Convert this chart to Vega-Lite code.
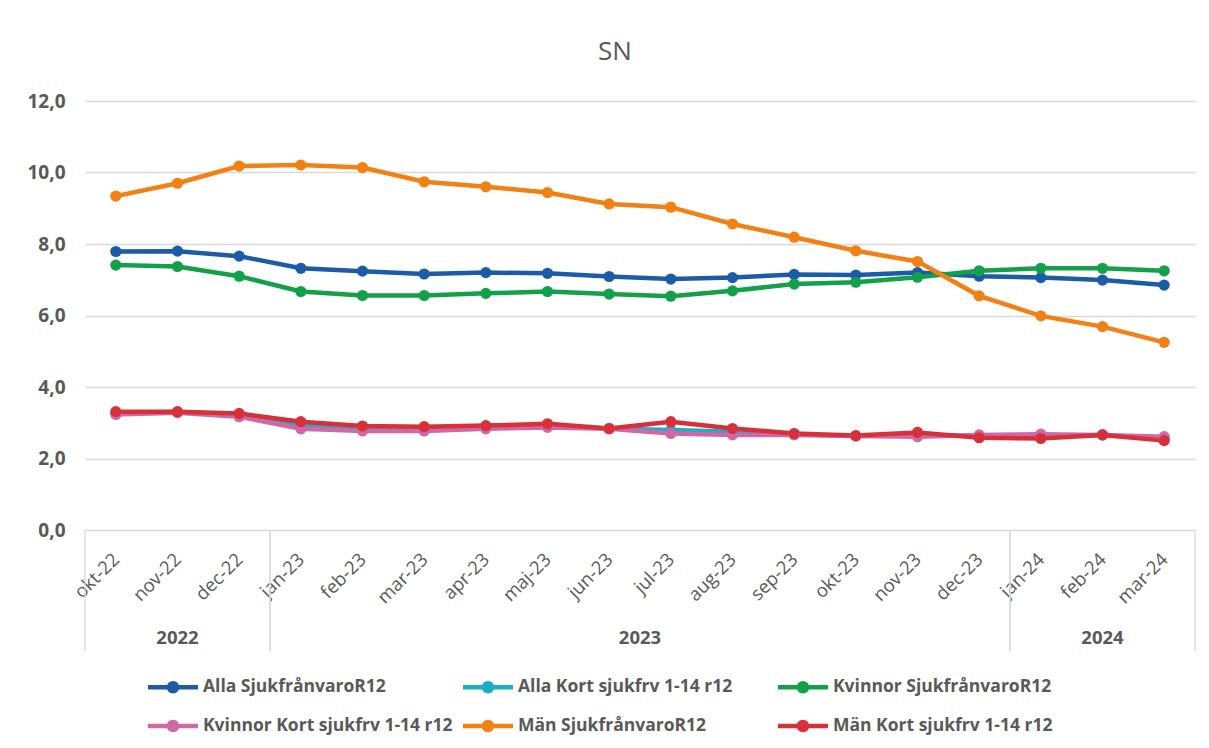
{
  "$schema": "https://vega.github.io/schema/vega-lite/v6.json",
  "autosize": {"type": "none"},
  "width": 1110,
  "height": 429,
  "padding": {"left": 85, "top": 101, "right": 14, "bottom": 218},
  "background": "white",
  "title": {"text": "SN", "fontSize": 26, "fontWeight": "normal", "color": "#595959", "font": "Open Sans", "baseline": "alphabetic", "offset": 6, "dx": -25},
  "config": {
    "font": "Open Sans",
    "view": {"stroke": null}
  },
  "resolve": {"scale": {"x": "independent"}},
  "layer": [
    {
      "data": {"values": [
        {"m":"okt-22","s":"Alla SjukfrånvaroR12","v":7.79},{"m":"nov-22","s":"Alla SjukfrånvaroR12","v":7.80},{"m":"dec-22","s":"Alla SjukfrånvaroR12","v":7.66},{"m":"jan-23","s":"Alla SjukfrånvaroR12","v":7.32},{"m":"feb-23","s":"Alla SjukfrånvaroR12","v":7.24},{"m":"mar-23","s":"Alla SjukfrånvaroR12","v":7.16},{"m":"apr-23","s":"Alla SjukfrånvaroR12","v":7.20},{"m":"maj-23","s":"Alla SjukfrånvaroR12","v":7.18},{"m":"jun-23","s":"Alla SjukfrånvaroR12","v":7.09},{"m":"jul-23","s":"Alla SjukfrånvaroR12","v":7.02},{"m":"aug-23","s":"Alla SjukfrånvaroR12","v":7.06},{"m":"sep-23","s":"Alla SjukfrånvaroR12","v":7.15},{"m":"okt-23","s":"Alla SjukfrånvaroR12","v":7.13},{"m":"nov-23","s":"Alla SjukfrånvaroR12","v":7.20},{"m":"dec-23","s":"Alla SjukfrånvaroR12","v":7.10},{"m":"jan-24","s":"Alla SjukfrånvaroR12","v":7.06},{"m":"feb-24","s":"Alla SjukfrånvaroR12","v":6.99},{"m":"mar-24","s":"Alla SjukfrånvaroR12","v":6.85},
        {"m":"okt-22","s":"Alla Kort sjukfrv 1-14 r12","v":3.27},{"m":"nov-22","s":"Alla Kort sjukfrv 1-14 r12","v":3.30},{"m":"dec-22","s":"Alla Kort sjukfrv 1-14 r12","v":3.21},{"m":"jan-23","s":"Alla Kort sjukfrv 1-14 r12","v":2.93},{"m":"feb-23","s":"Alla Kort sjukfrv 1-14 r12","v":2.85},{"m":"mar-23","s":"Alla Kort sjukfrv 1-14 r12","v":2.84},{"m":"apr-23","s":"Alla Kort sjukfrv 1-14 r12","v":2.88},{"m":"maj-23","s":"Alla Kort sjukfrv 1-14 r12","v":2.92},{"m":"jun-23","s":"Alla Kort sjukfrv 1-14 r12","v":2.84},{"m":"jul-23","s":"Alla Kort sjukfrv 1-14 r12","v":2.80},{"m":"aug-23","s":"Alla Kort sjukfrv 1-14 r12","v":2.75},{"m":"sep-23","s":"Alla Kort sjukfrv 1-14 r12","v":2.68},{"m":"okt-23","s":"Alla Kort sjukfrv 1-14 r12","v":2.63},{"m":"nov-23","s":"Alla Kort sjukfrv 1-14 r12","v":2.67},{"m":"dec-23","s":"Alla Kort sjukfrv 1-14 r12","v":2.62},{"m":"jan-24","s":"Alla Kort sjukfrv 1-14 r12","v":2.62},{"m":"feb-24","s":"Alla Kort sjukfrv 1-14 r12","v":2.66},{"m":"mar-24","s":"Alla Kort sjukfrv 1-14 r12","v":2.56},
        {"m":"okt-22","s":"Kvinnor SjukfrånvaroR12","v":7.41},{"m":"nov-22","s":"Kvinnor SjukfrånvaroR12","v":7.37},{"m":"dec-22","s":"Kvinnor SjukfrånvaroR12","v":7.10},{"m":"jan-23","s":"Kvinnor SjukfrånvaroR12","v":6.67},{"m":"feb-23","s":"Kvinnor SjukfrånvaroR12","v":6.56},{"m":"mar-23","s":"Kvinnor SjukfrånvaroR12","v":6.56},{"m":"apr-23","s":"Kvinnor SjukfrånvaroR12","v":6.62},{"m":"maj-23","s":"Kvinnor SjukfrånvaroR12","v":6.67},{"m":"jun-23","s":"Kvinnor SjukfrånvaroR12","v":6.60},{"m":"jul-23","s":"Kvinnor SjukfrånvaroR12","v":6.54},{"m":"aug-23","s":"Kvinnor SjukfrånvaroR12","v":6.69},{"m":"sep-23","s":"Kvinnor SjukfrånvaroR12","v":6.88},{"m":"okt-23","s":"Kvinnor SjukfrånvaroR12","v":6.93},{"m":"nov-23","s":"Kvinnor SjukfrånvaroR12","v":7.07},{"m":"dec-23","s":"Kvinnor SjukfrånvaroR12","v":7.25},{"m":"jan-24","s":"Kvinnor SjukfrånvaroR12","v":7.32},{"m":"feb-24","s":"Kvinnor SjukfrånvaroR12","v":7.32},{"m":"mar-24","s":"Kvinnor SjukfrånvaroR12","v":7.25},
        {"m":"okt-22","s":"Kvinnor Kort sjukfrv 1-14 r12","v":3.23},{"m":"nov-22","s":"Kvinnor Kort sjukfrv 1-14 r12","v":3.28},{"m":"dec-22","s":"Kvinnor Kort sjukfrv 1-14 r12","v":3.17},{"m":"jan-23","s":"Kvinnor Kort sjukfrv 1-14 r12","v":2.83},{"m":"feb-23","s":"Kvinnor Kort sjukfrv 1-14 r12","v":2.77},{"m":"mar-23","s":"Kvinnor Kort sjukfrv 1-14 r12","v":2.77},{"m":"apr-23","s":"Kvinnor Kort sjukfrv 1-14 r12","v":2.83},{"m":"maj-23","s":"Kvinnor Kort sjukfrv 1-14 r12","v":2.87},{"m":"jun-23","s":"Kvinnor Kort sjukfrv 1-14 r12","v":2.83},{"m":"jul-23","s":"Kvinnor Kort sjukfrv 1-14 r12","v":2.70},{"m":"aug-23","s":"Kvinnor Kort sjukfrv 1-14 r12","v":2.66},{"m":"sep-23","s":"Kvinnor Kort sjukfrv 1-14 r12","v":2.66},{"m":"okt-23","s":"Kvinnor Kort sjukfrv 1-14 r12","v":2.63},{"m":"nov-23","s":"Kvinnor Kort sjukfrv 1-14 r12","v":2.61},{"m":"dec-23","s":"Kvinnor Kort sjukfrv 1-14 r12","v":2.66},{"m":"jan-24","s":"Kvinnor Kort sjukfrv 1-14 r12","v":2.68},{"m":"feb-24","s":"Kvinnor Kort sjukfrv 1-14 r12","v":2.66},{"m":"mar-24","s":"Kvinnor Kort sjukfrv 1-14 r12","v":2.61},
        {"m":"okt-22","s":"Män SjukfrånvaroR12","v":9.34},{"m":"nov-22","s":"Män SjukfrånvaroR12","v":9.70},{"m":"dec-22","s":"Män SjukfrånvaroR12","v":10.18},{"m":"jan-23","s":"Män SjukfrånvaroR12","v":10.21},{"m":"feb-23","s":"Män SjukfrånvaroR12","v":10.14},{"m":"mar-23","s":"Män SjukfrånvaroR12","v":9.74},{"m":"apr-23","s":"Män SjukfrånvaroR12","v":9.60},{"m":"maj-23","s":"Män SjukfrånvaroR12","v":9.44},{"m":"jun-23","s":"Män SjukfrånvaroR12","v":9.12},{"m":"jul-23","s":"Män SjukfrånvaroR12","v":9.03},{"m":"aug-23","s":"Män SjukfrånvaroR12","v":8.56},{"m":"sep-23","s":"Män SjukfrånvaroR12","v":8.19},{"m":"okt-23","s":"Män SjukfrånvaroR12","v":7.81},{"m":"nov-23","s":"Män SjukfrånvaroR12","v":7.51},{"m":"dec-23","s":"Män SjukfrånvaroR12","v":6.55},{"m":"jan-24","s":"Män SjukfrånvaroR12","v":5.99},{"m":"feb-24","s":"Män SjukfrånvaroR12","v":5.69},{"m":"mar-24","s":"Män SjukfrånvaroR12","v":5.25},
        {"m":"okt-22","s":"Män Kort sjukfrv 1-14 r12","v":3.31},{"m":"nov-22","s":"Män Kort sjukfrv 1-14 r12","v":3.31},{"m":"dec-22","s":"Män Kort sjukfrv 1-14 r12","v":3.26},{"m":"jan-23","s":"Män Kort sjukfrv 1-14 r12","v":3.03},{"m":"feb-23","s":"Män Kort sjukfrv 1-14 r12","v":2.91},{"m":"mar-23","s":"Män Kort sjukfrv 1-14 r12","v":2.89},{"m":"apr-23","s":"Män Kort sjukfrv 1-14 r12","v":2.92},{"m":"maj-23","s":"Män Kort sjukfrv 1-14 r12","v":2.97},{"m":"jun-23","s":"Män Kort sjukfrv 1-14 r12","v":2.84},{"m":"jul-23","s":"Män Kort sjukfrv 1-14 r12","v":3.03},{"m":"aug-23","s":"Män Kort sjukfrv 1-14 r12","v":2.84},{"m":"sep-23","s":"Män Kort sjukfrv 1-14 r12","v":2.70},{"m":"okt-23","s":"Män Kort sjukfrv 1-14 r12","v":2.64},{"m":"nov-23","s":"Män Kort sjukfrv 1-14 r12","v":2.73},{"m":"dec-23","s":"Män Kort sjukfrv 1-14 r12","v":2.58},{"m":"jan-24","s":"Män Kort sjukfrv 1-14 r12","v":2.56},{"m":"feb-24","s":"Män Kort sjukfrv 1-14 r12","v":2.66},{"m":"mar-24","s":"Män Kort sjukfrv 1-14 r12","v":2.50}
      ]},
      "mark": {"type": "line", "strokeWidth": 4.5, "point": {"filled": true, "size": 125, "opacity": 1}},
      "encoding": {
        "x": {
          "field": "m", "type": "ordinal",
          "sort": ["okt-22","nov-22","dec-22","jan-23","feb-23","mar-23","apr-23","maj-23","jun-23","jul-23","aug-23","sep-23","okt-23","nov-23","dec-23","jan-24","feb-24","mar-24"],
          "scale": {"type": "point", "padding": 0.5},
          "axis": {"title": null, "domain": false, "ticks": false, "grid": false, "labelAngle": -45, "labelBaseline": "middle", "labelAlign": "right", "labelFontSize": 18.5, "labelColor": "#595959", "labelFont": "Open Sans", "labelPadding": 26}
        },
        "y": {
          "field": "v", "type": "quantitative",
          "scale": {"domain": [0, 12]},
          "axis": {"title": null, "values": [0, 2, 4, 6, 8, 10, 12], "domain": false, "ticks": false, "grid": true, "gridColor": "#d9d9d9", "gridWidth": 1.3, "labelFontSize": 19, "labelFontWeight": "bold", "labelColor": "#595959", "labelFont": "Open Sans", "labelPadding": 20, "labelExpr": "replace(format(datum.value, '.1f'), '.', ',')"}
        },
        "color": {
          "field": "s", "type": "nominal",
          "scale": {
            "domain": ["Alla SjukfrånvaroR12", "Alla Kort sjukfrv 1-14 r12", "Kvinnor SjukfrånvaroR12", "Kvinnor Kort sjukfrv 1-14 r12", "Män SjukfrånvaroR12", "Män Kort sjukfrv 1-14 r12"],
            "range": ["#1c5ba8", "#1aafc6", "#12a048", "#d068a8", "#f28012", "#d83038"]
          },
          "legend": {
            "title": null, "orient": "none", "legendX": 63, "legendY": 561, "direction": "horizontal", "columns": 3, "gridAlign": "all",
            "symbolType": "M-1,-0.09L1,-0.09L1,0.09L-1,0.09Z M0.25,0A0.25,0.25 0 1,1 -0.25,0A0.25,0.25 0 1,1 0.25,0Z",
            "symbolSize": 2500, "symbolStrokeWidth": 0, "symbolOpacity": 1,
            "labelFontSize": 17.5, "labelFontWeight": "bold", "labelColor": "#595959", "labelFont": "Open Sans", "labelOffset": 5, "labelLimit": 400,
            "columnPadding": 10, "rowPadding": 5,
            "encode": {"symbols": {"update": {"fill": {"scale": "color", "field": "value"}, "strokeWidth": {"value": 0}}}}
          }
        }
      }
    },
    {
      "data": {"values": [
        {"year": "2022", "edge": 0},
        {"year": "2022", "edge": 3},
        {"year": "2023", "edge": 3},
        {"year": "2023", "edge": 15},
        {"year": "2024", "edge": 15},
        {"year": "2024", "edge": 18}
      ]},
      "layer": [
        {
          "mark": {"type": "rule", "color": "#d9d9d9", "strokeWidth": 1.3},
          "encoding": {
            "x": {"field": "edge", "type": "quantitative", "scale": {"domain": [0, 18], "nice": false, "zero": false}, "axis": null},
            "y": {"datum": 0, "type": "quantitative"},
            "y2": {"datum": -3.4}
          }
        },
        {
          "mark": {"type": "text", "fontSize": 18.5, "fontWeight": "bold", "color": "#595959", "font": "Open Sans", "baseline": "middle", "align": "center"},
          "encoding": {
            "x": {"field": "edge", "aggregate": "mean", "type": "quantitative", "axis": null},
            "y": {"datum": -3.03, "type": "quantitative"},
            "text": {"field": "year"}
          }
        }
      ]
    }
  ]
}
